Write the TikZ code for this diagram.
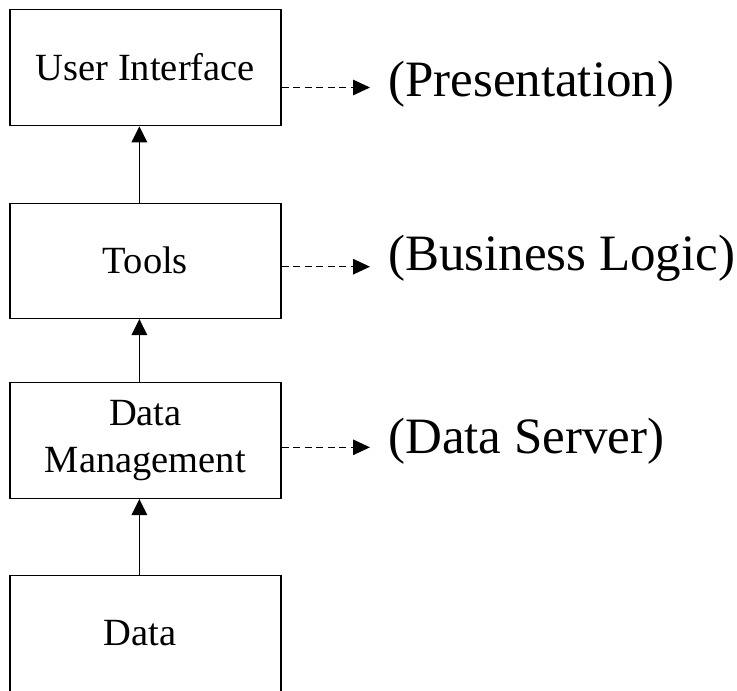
\documentclass[tikz,border=0pt]{standalone}
\usepackage{fontspec}
\setmainfont{Liberation Serif}
\usetikzlibrary{arrows.meta}
\begin{document}
\begin{tikzpicture}[x=1pt,y=-1pt,
  layerbox/.style={draw=black,line width=1.4pt,minimum width=271pt,minimum height=116pt,inner sep=0pt,align=center,font=\fontsize{38.5}{47.3}\selectfont},
  uparrow/.style={line width=1.4pt,-{Triangle[length=16pt,width=15.5pt]}},
  sidearrow/.style={line width=1.3pt,dash pattern=on 7pt off 4.5pt,-{Triangle[length=17pt,width=15.5pt]}},
  tierlabel/.style={anchor=base west,inner sep=0pt,font=\fontsize{51}{61}\selectfont}]
\useasboundingbox (0,0) rectangle (737,691);
\node[layerbox] (ui) at (145.4,67.6) {User Interface};
\node[layerbox,minimum height=115pt] (tools) at (145.4,260.8) {Tools};
\node[layerbox,minimum height=115.6pt] (dm) at (145.4,440.5) {Data\\Management};
\node[layerbox,minimum height=118pt] (data) at (145.4,634.7) {};
\node[font=\fontsize{38.5}{47.3}\selectfont,inner sep=0pt,anchor=base] (datatext) at (140,645.7) {Data};
\node[tierlabel] (pres) at (388,96.7) {(Presentation)};
\node[tierlabel] (biz) at (388,270) {(Business Logic)};
\node[tierlabel] (serv) at (388,453.3) {(Data Server)};
\coordinate (presin) at (370,87.5);
\coordinate (bizin) at (370,266.7);
\coordinate (servin) at (370,447.3);
\draw[uparrow] ([xshift=-6pt]tools.north) -- ([xshift=-6pt]ui.south);
\draw[uparrow] ([xshift=-6pt]dm.north) -- ([xshift=-6pt]tools.south);
\draw[uparrow] ([xshift=-6pt]data.north) -- ([xshift=-6pt]dm.south);
\draw[sidearrow] (ui.east |- presin) -- (presin);
\draw[sidearrow] (tools.east |- bizin) -- (bizin);
\draw[sidearrow] (dm.east |- servin) -- (servin);
\end{tikzpicture}
\end{document}
